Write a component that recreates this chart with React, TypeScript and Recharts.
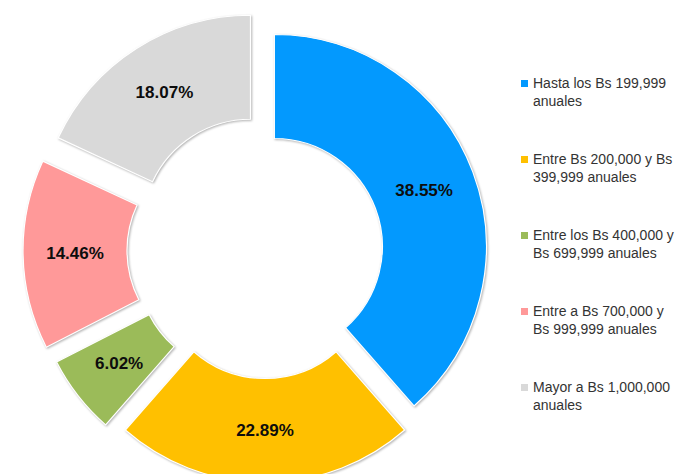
import { PieChart, Pie, Cell, Sector, Legend } from "recharts"

const categories = [
  "Hasta los Bs 199,999 anuales",
  "Entre Bs 200,000 y Bs 399,999 anuales",
  "Entre los Bs 400,000 y Bs 699,999 anuales",
  "Entre a Bs 700,000 y Bs 999,999 anuales",
  "Mayor a Bs 1,000,000 anuales",
]
const shares = [38.55, 22.89, 6.02, 14.46, 18.07]
const colors = ["#0399FE", "#FFC000", "#9BBB59", "#FF9999", "#D9D9D9"]

const data = categories.map((name, i) => ({ name, value: shares[i] }))

// how far each slice is pulled out from the centre (px)
const explode = [10, 20.5, 25, 30, 27]
const RAD = Math.PI / 180

function ExplodedSlice(props: any) {
  const { cx, cy, innerRadius, outerRadius, startAngle, endAngle, midAngle, fill, index, value } = props
  const d = explode[index] ?? 0
  const ox = cx + d * Math.cos(midAngle * RAD)
  const oy = cy - d * Math.sin(midAngle * RAD)
  const mid = (innerRadius + outerRadius) / 2
  const lx = ox + mid * Math.cos(midAngle * RAD)
  const ly = oy - mid * Math.sin(midAngle * RAD)
  return (
    <g>
      <Sector
        cx={ox}
        cy={oy}
        innerRadius={innerRadius}
        outerRadius={outerRadius}
        startAngle={startAngle}
        endAngle={endAngle}
        fill={fill}
        stroke="#ffffff"
        strokeWidth={1.2}
        style={{ filter: "drop-shadow(1px 1.5px 1px rgba(0,0,0,0.3))" }}
      />
      <text
        x={lx}
        y={ly}
        textAnchor="middle"
        dominantBaseline="central"
        fontFamily="'Liberation Sans', Arial, sans-serif"
        fontWeight="bold"
        fontSize={17}
        fill="#0d0d0d"
      >
        {value.toFixed(2)}%
      </text>
    </g>
  )
}

function LegendList() {
  return (
    <div style={{ fontFamily: "'Liberation Sans', Arial, sans-serif", fontSize: 14, color: "#333333" }}>
      {categories.map((name, i) => (
        <div key={i} style={{ display: "flex", alignItems: "flex-start", height: 76 }}>
          <div
            style={{
              width: 7,
              height: 7,
              marginTop: 5,
              marginRight: 5,
              backgroundColor: colors[i],
              flexShrink: 0,
            }}
          ></div>
          <span style={{ width: 144, lineHeight: "17.5px" }}>{name}</span>
        </div>
      ))}
    </div>
  )
}

export default function App() {
  return (
    <div style={{ position: "absolute", left: 0, top: 0, background: "#ffffff" }}>
      <PieChart width={677} height={474}>
        <Pie
          data={data}
          dataKey="value"
          nameKey="name"
          cx={260}
          cy={245}
          innerRadius={108}
          outerRadius={212}
          startAngle={90}
          endAngle={-270}
          paddingAngle={0}
          shape={ExplodedSlice}
          isAnimationActive={false}
        >
          {data.map((entry, index) => (
            <Cell key={`cell-${index}`} fill={colors[index]} />
          ))}
        </Pie>
        <Legend
          layout="vertical"
          align="right"
          verticalAlign="top"
          content={() => <LegendList />}
          wrapperStyle={{ left: 521, top: 75, width: 156 }}
        />
      </PieChart>
    </div>
  )
}
